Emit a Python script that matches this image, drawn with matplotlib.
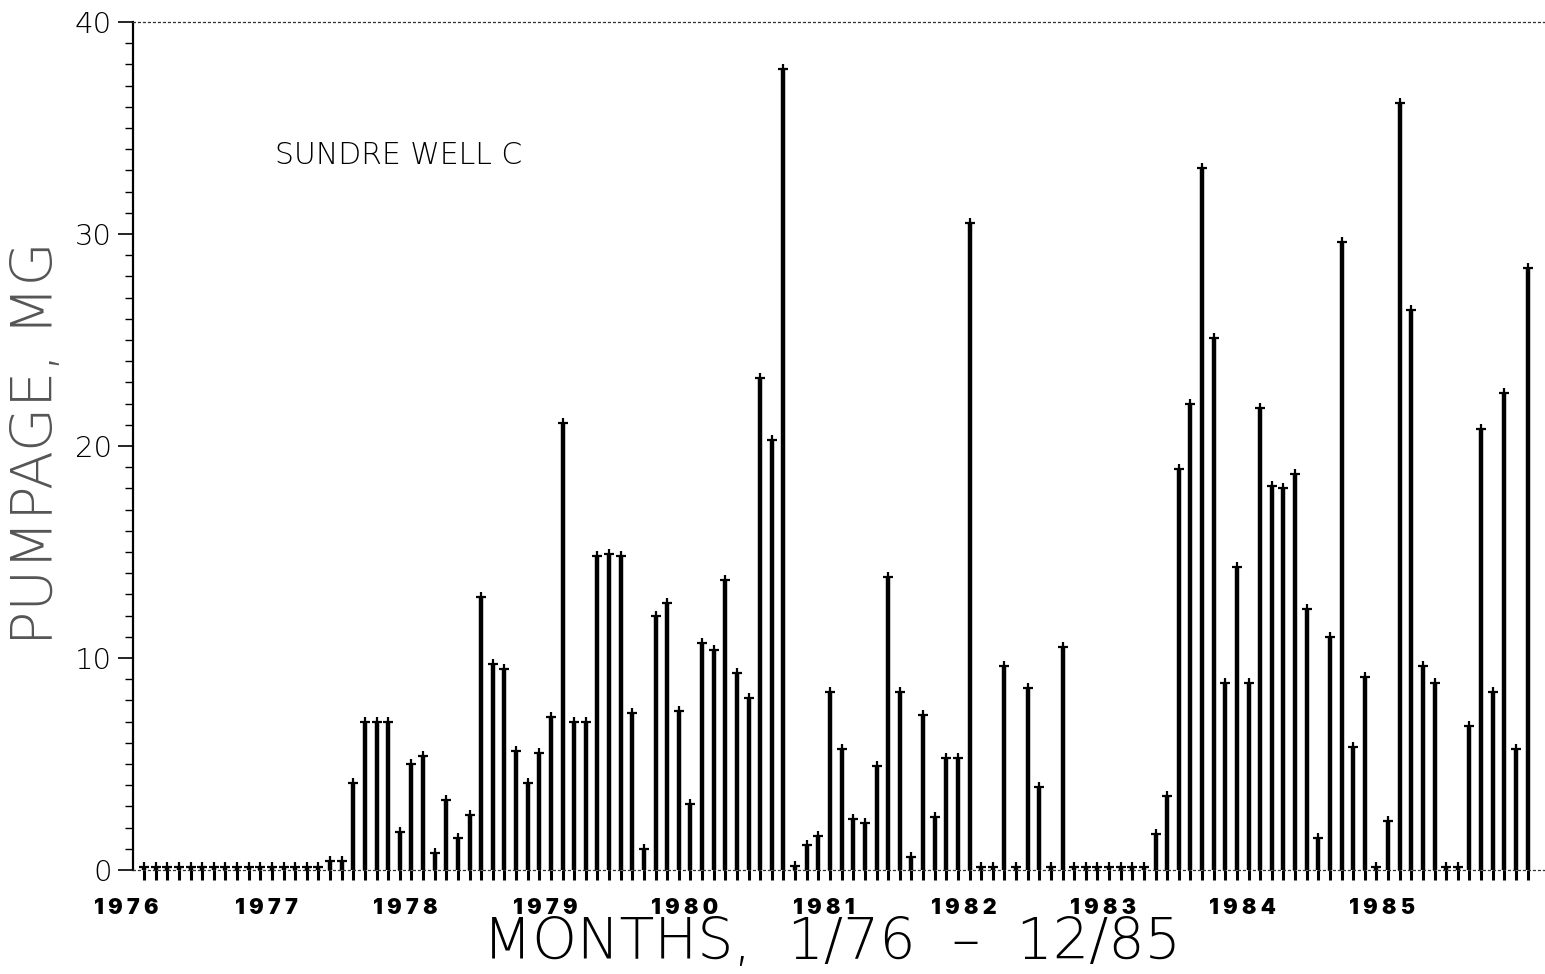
import numpy as np
import matplotlib.pyplot as plt
from matplotlib.ticker import MultipleLocator
from matplotlib.transforms import blended_transform_factory

# --- Data: monthly pumpage (MG), Sundre well C, 1/76 - 12/85 ---
years = [1976, 1977, 1978, 1979, 1980, 1981, 1982, 1983, 1984, 1985]

pump_1976 = [0.15, 0.15, 0.15, 0.15, 0.15, 0.15, 0.15, 0.15, 0.15, 0.15, 0.15, 0.15]
pump_1977 = [0.15, 0.15, 0.15, 0.15, 0.4, 0.4, 4.1, 7.0, 7.0, 7.0, 1.8, 5.0]
pump_1978 = [5.4, 0.8, 3.3, 1.5, 2.6, 12.9, 9.7, 9.5, 5.6, 4.1, 5.5, 7.2]
pump_1979 = [21.1, 7.0, 7.0, 14.8, 14.9, 14.8, 7.4, 1.0, 12.0, 12.6, 7.5, 3.1]
pump_1980 = [10.7, 10.4, 13.7, 9.3, 8.1, 23.2, 20.3, 37.8, 0.2, 1.2, 1.6, 8.4]
pump_1981 = [5.7, 2.4, 2.2, 4.9, 13.8, 8.4, 0.6, 7.3, 2.5, 5.3, 5.3, 30.5]
pump_1982 = [0.15, 0.15, 9.6, 0.15, 8.6, 3.9, 0.15, 10.5, 0.15, 0.15, 0.15, 0.15]
pump_1983 = [0.15, 0.15, 0.15, 1.7, 3.5, 18.9, 22.0, 33.1, 25.1, 8.8, 14.3, 8.8]
pump_1984 = [21.8, 18.1, 18.0, 18.7, 12.3, 1.5, 11.0, 29.6, 5.8, 9.1, 0.15, 2.3]
pump_1985 = [36.2, 26.4, 9.6, 8.8, 0.15, 0.15, 6.8, 20.8, 8.4, 22.5, 5.7, 28.4]

year_labels = [' '.join(str(y)) for y in years]

pumpage = np.concatenate([pump_1976, pump_1977, pump_1978, pump_1979, pump_1980,
                          pump_1981, pump_1982, pump_1983, pump_1984, pump_1985])
months = np.arange(len(pumpage))

# --- Plotting ---
fig = plt.figure(figsize=(15.45, 9.74), dpi=100)
ax = fig.add_axes([0.0861, 0.1068, 0.9139, 0.8706])

ax.vlines(months, 0, pumpage, color='black', lw=3.2)
ax.plot(months, pumpage, ls='none', marker='+', ms=7, mew=1.6, color='black')

ax.set_xlim(-0.95, 120.5)
ax.set_ylim(0, 40)

# plotter-style frame: solid y axis, dotted top and baseline
ax.spines['right'].set_visible(False)
ax.spines['left'].set_linewidth(1.6)
for side in ['top', 'bottom']:
    ax.spines[side].set_linestyle((0, (1.5, 2.5)))
    ax.spines[side].set_linewidth(0.9)
    ax.spines[side].set_color('#333333')

# y ticks: labelled every 10, minor every 1
ax.yaxis.set_major_locator(MultipleLocator(10))
ax.yaxis.set_minor_locator(MultipleLocator(1))
ax.tick_params(axis='y', which='major', direction='out', length=11, width=1.2, pad=4,
               labelsize=21)
ax.tick_params(axis='y', which='minor', direction='out', length=6, width=1.0)
for lbl in ax.get_yticklabels():
    lbl.set_fontweight('light')

# x ticks: one per month, no labels
ax.set_xticks(months)
ax.set_xticklabels([])
ax.tick_params(axis='x', which='major', direction='out', length=7, width=2.2)

# year labels under the months
trans = blended_transform_factory(ax.transData, ax.transAxes)
for k, lab in enumerate(year_labels):
    ax.text(12 * k - 1.5, -0.045, lab, transform=trans, ha='center', va='center',
            fontsize=15.5, fontweight=900, family=['Inter', 'DejaVu Sans'])

ax.text(0.1006, 0.842, 'SUNDRE WELL C', transform=ax.transAxes, ha='left', va='center',
        fontsize=21.5, fontweight='light')

fig.text(0.5386, 0.0318, 'MONTHS,  1/76  \u2013  12/85', ha='center', va='center',
         fontsize=41, fontweight='light')
fig.text(0.024, 0.545, 'PUMPAGE, MG', rotation=90, ha='center', va='center',
         fontsize=41, fontweight='light', color='#555555')

plt.savefig('out.png', dpi=100)
